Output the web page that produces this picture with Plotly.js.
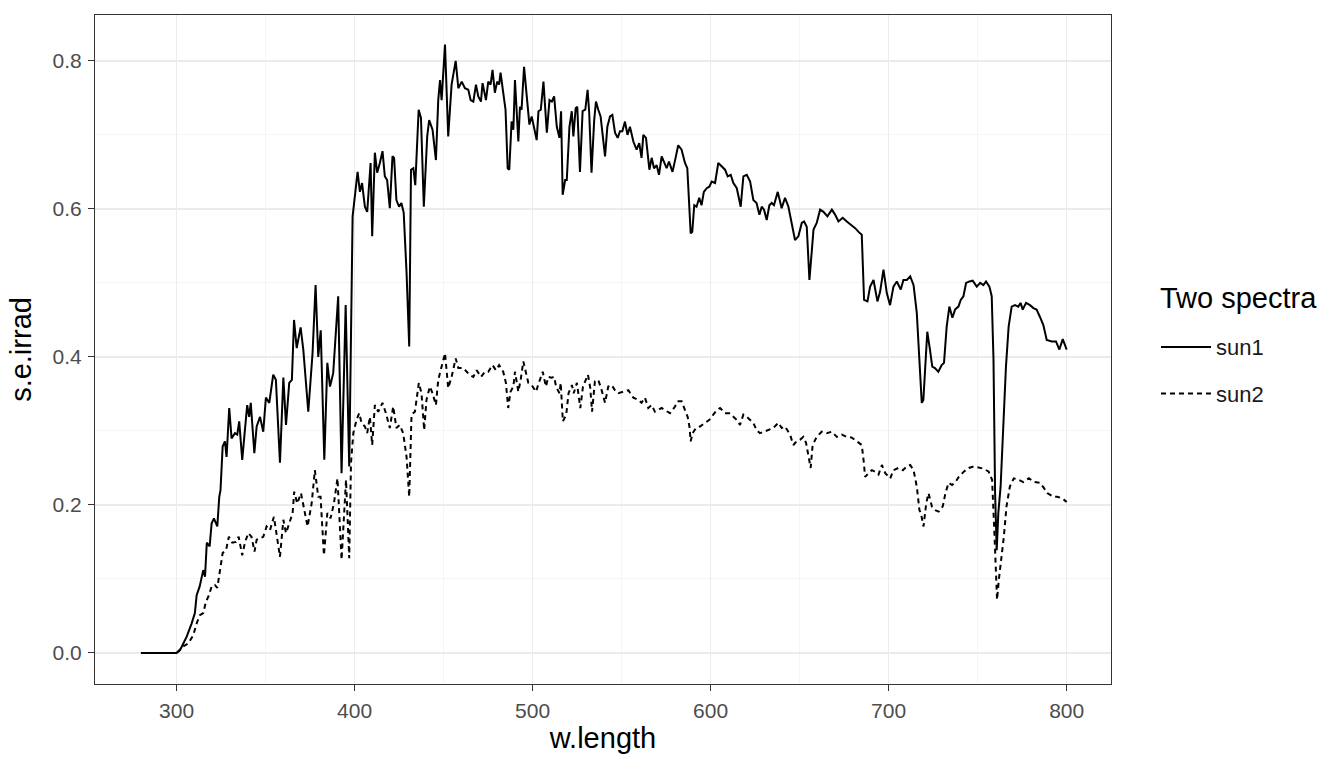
<!DOCTYPE html>
<html>
<head>
<meta charset="utf-8">
<script src="https://cdn.plot.ly/plotly-3.0.1.min.js"></script>
<style>
  html, body { margin: 0; padding: 0; background: #fff; }
  #chart { width: 1344px; height: 768px; }
</style>
</head>
<body>
<div id="chart"></div>
<script>
// spectra (w.length in nm, s.e.irrad)
var wl1 = [280, 290, 300, 302, 305.7, 308.5, 310.3, 311.3, 313, 315, 316, 317, 318.6, 319.7, 321, 322.9, 324, 324.7,
  325.9, 327.2, 328.1, 329.6, 330.9, 332.8, 334.1, 335.2, 336.9, 338.4, 339.7, 340.8, 341.7, 343.7, 345, 346.9, 348.7,
  350.2, 352.1, 354.3, 355.8, 358.1, 360, 361.5, 363.3, 364.8, 366, 367.5, 369.7, 371.2, 374, 376.4, 378.1, 379.6, 381,
  383, 384.7, 386.2, 388, 390.8, 392.7, 395, 397, 398.9, 400.2, 401.7, 403, 404.2, 405.8, 407.1, 409, 409.9, 411.4,
  412.7, 414.2, 415.7, 417, 418.3, 419.8, 421.3, 422.2, 423.5, 425, 426.3, 427.6, 429.2, 430.7, 431.7, 433, 434.1, 436,
  437.3, 438.9, 440.8, 441.9, 443.8, 445.7, 447, 448, 448.9, 450.8, 452.6, 454.5, 456.8, 458.3, 460.2, 462, 463.9,
  465.2, 466.7, 468.2, 469.5, 471, 471.9, 473.8, 475.1, 476.4, 477.5, 478.8, 480.1, 481.2, 482, 483.5, 484.8, 486,
  486.9, 488.2, 489.2, 490.1, 492, 492.9, 493.8, 495.2, 496.7, 498.2, 499.5, 500.8, 502.3, 503.3, 504.6, 506.1, 508,
  509.5, 510.8, 512.1, 513.6, 515.1, 516, 516.9, 518.3, 519.2, 520.7, 522, 522.9, 524.2, 525.1, 526.6, 528.1, 529.6,
  530.9, 531.8, 533.1, 534.6, 535.6, 536.9, 538.2, 540.7, 542, 543.5, 544.8, 546.3, 547.8, 549.1, 550.4, 551.9, 553.3,
  554.7, 556.6, 558.4, 559.9, 561.2, 562.2, 563.7, 565.6, 566.9, 568.2, 569.7, 571, 572.5, 573.8, 575.3, 576.6, 578.6,
  580.5, 581.8, 583.7, 585.6, 586.9, 587.8, 588.8, 589.7, 590.8, 592.1, 593.6, 594.9, 596.2, 597.8, 599.3, 600.6,
  602.5, 604.3, 606.2, 608.1, 609.6, 611.3, 612.8, 614.7, 616.9, 618.4, 620.3, 622.2, 624, 625.8, 627.4, 628.7, 630,
  631.5, 633, 634.3, 635.6, 637.7, 639.9, 641.8, 643.7, 645.6, 647.4, 649.3, 651.2, 652.5, 654, 655.5, 656.8, 657.8,
  659.6, 661.5, 663.4, 665.6, 668.1, 670, 671.8, 674.2, 676.5, 679.3, 681.2, 683.1, 684.9, 686.2, 688.1, 689.6, 691.5,
  693.7, 695.2, 697.1, 699, 700.8, 702.7, 704.6, 706.8, 708.3, 710.2, 712.1, 714, 715.8, 717.3, 718.6, 719.5, 721.7,
  723.2, 724.5, 726, 727.9, 729.8, 731.1, 732.6, 734.1, 735.8, 737.3, 739.2, 740.5, 742, 743.5, 745.4, 747.2, 749.5,
  751.4, 753.2, 754.7, 756.6, 757.9, 758.9, 759.8, 760.7, 761.6, 762.9, 764.4, 765.9, 767.4, 769.1, 771, 772.8, 774.1,
  775.3, 777.2, 779.4, 781.3, 783.1, 785, 786.9, 788.8, 791.6, 794, 795.9, 797.8, 799.1, 800];
var sun1 = [0, 0, 0, 0.004, 0.022, 0.04, 0.054, 0.078, 0.09, 0.112, 0.103, 0.149, 0.144, 0.175, 0.182, 0.171, 0.211, 0.22,
  0.279, 0.286, 0.265, 0.331, 0.29, 0.297, 0.295, 0.313, 0.261, 0.301, 0.335, 0.319, 0.338, 0.27, 0.306, 0.319, 0.299,
  0.345, 0.338, 0.376, 0.369, 0.257, 0.372, 0.308, 0.365, 0.369, 0.45, 0.412, 0.44, 0.41, 0.326, 0.405, 0.497, 0.40, 0.436,
  0.261, 0.392, 0.36, 0.378, 0.482, 0.243, 0.47, 0.252, 0.59, 0.621, 0.65, 0.623, 0.635, 0.603, 0.596, 0.662, 0.563, 0.676,
  0.649, 0.662, 0.678, 0.644, 0.639, 0.601, 0.671, 0.669, 0.612, 0.603, 0.608, 0.595, 0.514, 0.414, 0.653, 0.655, 0.632, 0.734,
  0.723, 0.603, 0.698, 0.72, 0.707, 0.666, 0.747, 0.774, 0.747, 0.822, 0.698, 0.768, 0.80, 0.763, 0.772, 0.763, 0.761,
  0.747, 0.745, 0.768, 0.752, 0.745, 0.77, 0.747, 0.772, 0.768, 0.788, 0.757, 0.772, 0.768, 0.784, 0.757, 0.734, 0.655,
  0.653, 0.718, 0.707, 0.774, 0.691, 0.738, 0.734, 0.792, 0.757, 0.714, 0.725, 0.711, 0.693, 0.732, 0.734, 0.772, 0.703,
  0.747, 0.745, 0.752, 0.711, 0.696, 0.732, 0.619, 0.639, 0.639, 0.711, 0.732, 0.698, 0.736, 0.738, 0.65, 0.732, 0.734,
  0.761, 0.73, 0.649, 0.72, 0.745, 0.734, 0.725, 0.671, 0.711, 0.725, 0.727, 0.703, 0.696, 0.705, 0.705, 0.718, 0.70,
  0.711, 0.691, 0.68, 0.689, 0.669, 0.70, 0.696, 0.653, 0.669, 0.655, 0.659, 0.646, 0.671, 0.664, 0.655, 0.664, 0.65,
  0.671, 0.686, 0.68, 0.662, 0.655, 0.617, 0.567, 0.569, 0.605, 0.603, 0.615, 0.605, 0.623, 0.628, 0.63, 0.637,
  0.635, 0.662, 0.657, 0.653, 0.644, 0.646, 0.635, 0.628, 0.603, 0.644, 0.646, 0.637, 0.612, 0.608, 0.592, 0.603, 0.599,
  0.585, 0.605, 0.608, 0.605, 0.623, 0.601, 0.615, 0.603, 0.578, 0.558, 0.563, 0.581, 0.583, 0.576, 0.504, 0.545, 0.572,
  0.581, 0.599, 0.596, 0.59, 0.599, 0.592, 0.583, 0.588, 0.583, 0.578, 0.574, 0.569, 0.565, 0.477, 0.475, 0.495, 0.504,
  0.475, 0.488, 0.518, 0.486, 0.47, 0.495, 0.502, 0.491, 0.504, 0.504, 0.509, 0.497, 0.46, 0.387, 0.338, 0.342, 0.434,
  0.41, 0.387, 0.385, 0.38, 0.389, 0.392, 0.441, 0.468, 0.453, 0.464, 0.468, 0.477, 0.482, 0.50, 0.502, 0.503, 0.495,
  0.50, 0.497, 0.502, 0.495, 0.482, 0.396, 0.216, 0.139, 0.189, 0.225, 0.306, 0.387, 0.441, 0.468, 0.47, 0.468, 0.473,
  0.464, 0.473, 0.47, 0.466, 0.464, 0.454, 0.443, 0.423, 0.421, 0.421, 0.41, 0.424, 0.416, 0.41];

var wl2 = [280, 290, 300, 303.8, 306.6, 309.4, 311.3, 313.1, 315, 316.5, 318.2, 319.7, 321.5, 322.9, 324.4, 325.9, 327.8,
  329.4, 331.3, 333.4, 334.9, 336.9, 338.4, 340.3, 342.1, 343.8, 345, 346.9, 348.7, 350.6, 352.5, 354.7, 356.2, 358.1,
  360, 361.5, 363.3, 365.2, 366.1, 367.8, 369.9, 371.2, 373.6, 375.9, 377.7, 379.6, 380.9, 382.8, 384.7, 386.5, 388.4,
  390.4, 392.7, 395.2, 397, 398, 399.3, 401.1, 402.6, 403.9, 405.8, 407.1, 408.6, 409.9, 411.4, 413.3, 415.7, 417.6,
  419.8, 421.7, 423.5, 425.4, 427.3, 429.2, 430.7, 432, 433.9, 436.1, 437.6, 439.1, 440.4, 442.3, 443.8, 445.7, 447,
  448.9, 450.8, 452.6, 454.5, 456.8, 458.3, 461.1, 464.5, 466.7, 468.6, 471, 473.3, 475.1, 477.5, 479.4, 481.2, 483.5,
  485, 486.3, 487.6, 489.2, 490.1, 492, 493.3, 494.8, 496.3, 497.6, 499.5, 501.9, 503.8, 505.7, 507.5, 508.8, 510.7,
  512.1, 513.2, 515.1, 515.8, 517, 518.9, 520.2, 522.1, 523.1, 524.9, 526.8, 528.3, 530, 531.1, 532.4, 533.4, 535,
  536.9, 538.8, 540.7, 542.5, 544.4, 546.3, 548.2, 551, 553.8, 556.6, 559.4, 561.2, 563.1, 565, 566.9, 568.7, 570.6,
  572.5, 574.4, 577.2, 580, 581.3, 583.7, 585.6, 587.1, 588.1, 588.8, 589.9, 591.8, 594, 596.8, 599.3, 601.5, 603.4,
  605.3, 608.1, 610.5, 612.8, 614.7, 616.5, 618.4, 620.3, 622.2, 624, 625.8, 627.7, 630, 632.4, 635.2, 638.1, 639.9,
  641.8, 644.6, 646.5, 648.3, 650.2, 652.1, 653.6, 655.5, 656.2, 657.3, 659.6, 662.4, 665.2, 668.1, 670.9, 673.7,
  676.5, 679.3, 682.1, 684.9, 685.9, 686.8, 688.7, 690.6, 692.4, 694.3, 696.2, 698.1, 700.9, 702.7, 705.5, 708, 710.2,
  712.1, 714, 715.8, 717.3, 718.1, 719.6, 721.1, 722.4, 724.3, 726.2, 728.1, 730.4, 731.9, 733.7, 735.6, 737.5, 739.4,
  742.2, 745, 747.8, 750.6, 753.4, 756.2, 758.1, 759.1, 760, 760.9, 761.9, 763.2, 764.7, 766.2, 768.1, 770.3, 773.2,
  775.6, 778.8, 781.6, 785, 787.2, 789.1, 792.5, 794.7, 797.5, 800];
var sun2 = [0, 0, 0, 0.009, 0.013, 0.024, 0.04, 0.051, 0.054, 0.069, 0.078, 0.09, 0.092, 0.088, 0.112, 0.135, 0.139,
  0.157, 0.149, 0.15, 0.157, 0.132, 0.149, 0.162, 0.157, 0.137, 0.153, 0.155, 0.157, 0.171, 0.166, 0.184, 0.157, 0.13,
  0.18, 0.162, 0.175, 0.189, 0.218, 0.202, 0.216, 0.20, 0.171, 0.202, 0.247, 0.211, 0.211, 0.132, 0.189, 0.182, 0.202,
  0.236, 0.126, 0.234, 0.128, 0.257, 0.297, 0.315, 0.324, 0.311, 0.306, 0.297, 0.319, 0.281, 0.335, 0.326, 0.338, 0.324,
  0.304, 0.333, 0.304, 0.308, 0.297, 0.265, 0.211, 0.322, 0.326, 0.365, 0.351, 0.301, 0.342, 0.36, 0.351, 0.335, 0.369,
  0.387, 0.405, 0.358, 0.373, 0.398, 0.385, 0.385, 0.376, 0.373, 0.382, 0.373, 0.38, 0.38, 0.389, 0.382, 0.389, 0.38,
  0.365, 0.331, 0.353, 0.36, 0.38, 0.353, 0.369, 0.394, 0.38, 0.365, 0.362, 0.353, 0.367, 0.38, 0.36, 0.373, 0.372,
  0.373, 0.36, 0.351, 0.365, 0.313, 0.322, 0.351, 0.362, 0.351, 0.365, 0.331, 0.36, 0.369, 0.376, 0.358, 0.326, 0.367,
  0.369, 0.355, 0.338, 0.36, 0.362, 0.355, 0.351, 0.353, 0.355, 0.345, 0.342, 0.338, 0.345, 0.331, 0.335, 0.326, 0.328,
  0.331, 0.328, 0.324, 0.333, 0.34, 0.34, 0.328, 0.319, 0.306, 0.286, 0.297, 0.304, 0.306, 0.311, 0.315, 0.322, 0.328,
  0.331, 0.324, 0.324, 0.319, 0.315, 0.308, 0.322, 0.319, 0.315, 0.311, 0.301, 0.297, 0.299, 0.301, 0.304, 0.311, 0.304,
  0.306, 0.295, 0.281, 0.286, 0.288, 0.292, 0.284, 0.261, 0.25, 0.281, 0.292, 0.299, 0.297, 0.299, 0.292, 0.295,
  0.292, 0.291, 0.286, 0.281, 0.261, 0.238, 0.243, 0.247, 0.245, 0.241, 0.254, 0.243, 0.236, 0.247, 0.25, 0.247, 0.252,
  0.254, 0.247, 0.225, 0.193, 0.189, 0.171, 0.202, 0.216, 0.198, 0.193, 0.191, 0.198, 0.216, 0.23, 0.227, 0.231, 0.238,
  0.245, 0.25, 0.252, 0.25, 0.249, 0.245, 0.234, 0.18, 0.126, 0.072, 0.099, 0.126, 0.157, 0.198, 0.225, 0.236, 0.234,
  0.231, 0.236, 0.231, 0.23, 0.223, 0.216, 0.211, 0.211, 0.209, 0.204];

var xTicks = [300, 400, 500, 600, 700, 800];
var yTicks = [0, 0.2, 0.4, 0.6, 0.8];
var yTickText = ['0.0', '0.2', '0.4', '0.6', '0.8'];
var legendTitle = 'Two spectra';

var sun1Trace = {
  x: wl1,
  y: sun1,
  name: 'sun1',
  legendgroup: 'sun1',
  mode: 'lines',
  type: 'scatter',
  line: {color: '#000000', width: 2}
};

var sun2Trace = {
  x: wl2,
  y: sun2,
  name: 'sun2',
  legendgroup: 'sun2',
  mode: 'lines',
  type: 'scatter',
  line: {color: '#000000', width: 2, dash: '5px,4px'}
};

var gridMajor = '#EBEBEB';
var gridMinor = '#F5F5F5';

var layout = {
  width: 1344,
  height: 768,
  margin: {l: 95, r: 233, t: 15, b: 84},
  paper_bgcolor: '#ffffff',
  plot_bgcolor: '#ffffff',
  font: {family: 'Liberation Sans, Arial, sans-serif', color: '#000000'},
  showlegend: true,
  legend: {
    x: 1.0443, xanchor: 'left',
    y: 0.535, yanchor: 'top',
    font: {size: 22, color: '#1a1a1a'},
    tracegroupgap: 15,
    itemwidth: 50
  },
  // legend title drawn as its own text so it can sit further above the keys
  annotations: [{
    text: legendTitle,
    xref: 'paper', yref: 'paper',
    x: 1.046, xanchor: 'left',
    y: 0.577, yanchor: 'middle',
    showarrow: false,
    font: {size: 29, color: '#000000'}
  }],
  xaxis: {
    range: [254.2, 824.9],
    tickvals: xTicks,
    ticks: 'outside', ticklen: 6, tickcolor: '#333333', tickwidth: 1,
    tickfont: {size: 21, color: '#4D4D4D'},
    ticklabelstandoff: 2,
    showgrid: true, gridcolor: gridMajor, gridwidth: 1.6,
    minor: {dtick: 50, tick0: 250, showgrid: true, gridcolor: gridMinor, gridwidth: 1, ticks: ''},
    zeroline: false,
    showline: true, mirror: true, linecolor: '#333333', linewidth: 1,
    title: {text: 'w.length', font: {size: 29, color: '#000000'}, standoff: 6}
  },
  yaxis: {
    range: [-0.0419, 0.862],
    tickvals: yTicks, ticktext: yTickText,
    ticks: 'outside', ticklen: 6, tickcolor: '#333333', tickwidth: 1,
    tickfont: {size: 21, color: '#4D4D4D'},
    ticklabelstandoff: 2,
    showgrid: true, gridcolor: gridMajor, gridwidth: 1.6,
    minor: {dtick: 0.1, tick0: 0, showgrid: true, gridcolor: gridMinor, gridwidth: 1, ticks: ''},
    zeroline: false,
    showline: true, mirror: true, linecolor: '#333333', linewidth: 1,
    title: {text: 's.e.irrad', font: {size: 29, color: '#000000'}, standoff: 12}
  }
};

Plotly.newPlot('chart', [sun1Trace, sun2Trace], layout, {displayModeBar: false, staticPlot: true});
</script>
</body>
</html>
